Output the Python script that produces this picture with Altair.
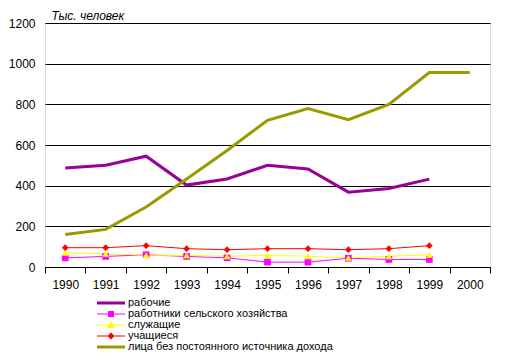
import altair as alt
import pandas as pd

years = ["1990", "1991", "1992", "1993", "1994", "1995", "1996", "1997", "1998", "1999", "2000"]
series = [
    "рабочие",
    "работники сельского хозяйства",
    "служащие",
    "учащиеся",
    "лица без постоянного источника дохода",
]
workers = [487, 500, 545, 403, 433, 500, 482, 368, 386, 432, None]
agri = [45, 52, 60, 52, 45, 24, 24, 43, 37, 37, None]
clerks = [70, 65, 58, 57, 53, 57, 53, 45, 53, 60, None]
students = [95, 95, 105, 90, 85, 90, 90, 85, 90, 105, None]
noincome = [160, 185, 295, 433, 573, 721, 779, 725, 800, 956, 956]
colors = ["#990099", "#FF00FF", "#FFFF00", "#FF0000", "#999900"]

values = [workers, agri, clerks, students, noincome]
rows = []
for name, vals in zip(series, values):
    for y, v in zip(years, vals):
        if v is not None:
            rows.append({"year": y, "series": name, "value": v})
df = pd.DataFrame(rows)

FONT = "Liberation Sans"

x_enc = alt.X(
    "year:O",
    scale=alt.Scale(type="band", domain=years, paddingInner=0, paddingOuter=0),
    axis=alt.Axis(
        title=None, labelAngle=0, tickBand="extent", tickSize=6, tickColor="black",
        domainColor="black", labelPadding=6, labelFontSize=12, labelColor="black",
        labelFont=FONT, grid=False,
    ),
)
y_enc = alt.Y(
    "value:Q",
    scale=alt.Scale(domain=[0, 1200], nice=False),
    axis=alt.Axis(
        values=[0, 200, 400, 600, 800, 1000, 1200], format="d", grid=True, gridColor="black",
        gridOpacity=1, gridWidth=1, ticks=False, tickSize=0, domain=False,
        labelPadding=10, labelFontSize=12, labelColor="black", labelFont=FONT,
        title="Тыс. человек", titleAngle=0, titleAlign="left", titleBaseline="middle",
        titleX=6, titleY=-8, titleFontStyle="italic", titleFontWeight="normal",
        titleFontSize=12, titleFont=FONT, titleColor="black",
    ),
)
leg = alt.Legend(
    title=None, orient="none", legendX=60.5, legendY=274.5, rowPadding=-1.5,
    labelOffset=11.5, symbolOffset=0, labelFontSize=11, labelFont=FONT,
    labelColor="black", padding=0, symbolSize=49, symbolStrokeWidth=0,
    symbolOpacity=1, labelLimit=300,
)
color_scale = alt.Scale(domain=series, range=colors)
color_enc = alt.Color("series:N", scale=color_scale)

thick = ["рабочие", "лица без постоянного источника дохода"]
thin = ["работники сельского хозяйства", "служащие", "учащиеся"]
marker_shapes = ["square", "triangle-up", "diamond"]

base = alt.Chart(df)

line_thick = "M-4,-0.43H4V0.43H-4Z"
line_thin = "M-4,-0.15H4V0.15H-4Z"
legend_shapes = [
    line_thick,
    line_thin + " M-0.86,-0.86H0.86V0.86H-0.86Z",
    line_thin + " M0,-1.15L1.15,0.86H-1.15Z",
    line_thin + " M0,-1.1L1,0L0,1.1L-1,0Z",
    line_thick,
]

legend_layer = base.mark_point(filled=True, opacity=1).encode(
    x=x_enc, y=y_enc,
    color=alt.Color("series:N", scale=color_scale, legend=leg),
    shape=alt.Shape("series:N", scale=alt.Scale(domain=series, range=legend_shapes), legend=leg),
).transform_filter("false")

thick_lines = base.mark_line(strokeJoin="miter").encode(
    x=x_enc, y=y_enc, color=color_enc, detail="series:N", strokeWidth=alt.value(3)
).transform_filter(alt.FieldOneOfPredicate(field="series", oneOf=thick))

thin_lines = base.mark_line().encode(
    x=x_enc, y=y_enc, color=color_enc, detail="series:N", strokeWidth=alt.value(1)
).transform_filter(alt.FieldOneOfPredicate(field="series", oneOf=thin))

point_layers = []
for name, shp in zip(thin, marker_shapes):
    point_layers.append(
        base.mark_point(filled=True, opacity=1, size=45, shape=shp).encode(
            x=x_enc, y=y_enc, color=color_enc,
        ).transform_filter(alt.FieldEqualPredicate(field="series", equal=name))
    )

chart = alt.layer(legend_layer, thick_lines, thin_lines, *point_layers).properties(
    width=445, height=244,
    autosize=alt.AutoSizeParams(type="none"),
    padding={"left": 37, "top": 15, "right": 15, "bottom": 85},
).configure_view(
    stroke="black", strokeWidth=1,
).configure_legend(
    symbolSize=49, symbolStrokeWidth=0, symbolFillColor="#000000",
    symbolStrokeColor="transparent", symbolOpacity=1,
).configure(font=FONT)

chart.save("out.html", embed_options={"renderer": "svg", "actions": False})
